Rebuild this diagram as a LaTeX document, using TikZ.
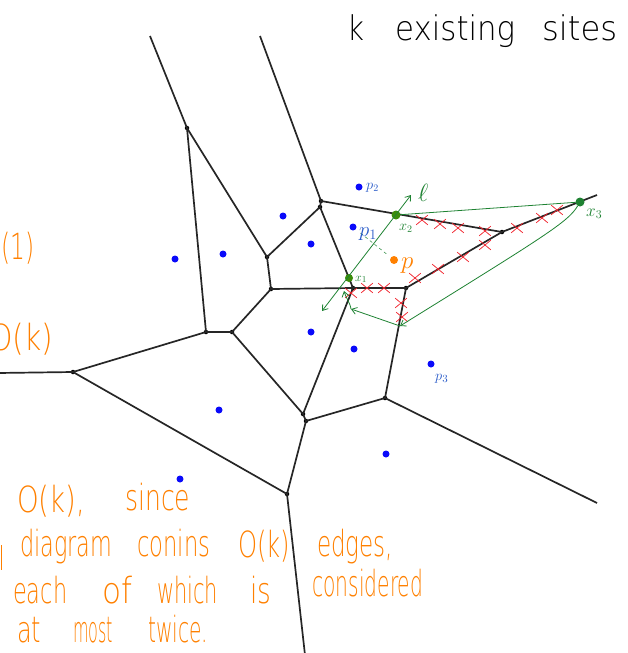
\documentclass[tikz,border=0pt]{standalone}
\usepackage{graphicx}
\usepackage{fontspec}
\newfontfamily\hwfont{DejaVu Sans ExtraLight}
\usetikzlibrary{arrows.meta,shapes.misc}
\definecolor{orng}{RGB}{255,128,0}
\definecolor{siteblue}{RGB}{10,10,250}
\definecolor{lblblue}{RGB}{40,90,200}
\definecolor{grn}{RGB}{30,130,50}
\definecolor{grnpt}{RGB}{60,140,10}
\definecolor{redx}{RGB}{240,30,40}
\newcommand{\hw}[2]{\resizebox{#1pt}{\height}{#2}}
\begin{document}
\begin{tikzpicture}[x=1pt,y=-1pt,
  voro/.style={line width=1.7pt, draw=black!85},
  vtx/.style={circle, fill=black, inner sep=0pt, minimum size=4.5pt},
  site/.style={circle, fill=siteblue, inner sep=0pt, minimum size=7pt},
  gpt/.style={circle, fill=grnpt, inner sep=0pt, minimum size=9pt},
  xm/.style={cross out, draw=redx, line width=0.7pt, inner sep=0pt, minimum width=11pt, minimum height=9pt},
  gline/.style={draw=grn, line width=0.8pt},
  garrow/.style={gline, -{Straight Barb[length=5pt,width=7pt]}},
  hand/.style={inner sep=0pt, anchor=base west, font=\hwfont\fontsize{34}{40}\selectfont},
  ohand/.style={hand, text=orng, font=\hwfont\fontsize{36}{44}\selectfont},
  lbl/.style={inner sep=0pt, anchor=base west}]
\useasboundingbox (0,0) rectangle (628,653);
\clip (0,0) rectangle (628,653);
% Voronoi vertices
\node[vtx] (A) at (187,128) {};
\node[vtx] (B1) at (321,201) {};
\node[vtx] (B2) at (320,207) {};
\node[vtx] (C) at (267,257) {};
\node[vtx] (D) at (271,289) {};
\node[vtx] (E) at (206,332) {};
\node[vtx] (F) at (232,332) {};
\node[vtx] (L) at (73,372) {};
\node[vtx] (G1) at (303,414) {};
\node[vtx] (G2) at (306,421) {};
\node[vtx] (H) at (385,398) {};
\node[vtx] (M) at (287,494) {};
\node[vtx] (I) at (353,288) {};
\node[vtx] (J) at (406,288) {};
\node[vtx] (K) at (502,232) {};
\coordinate (T1) at (150,36);
\coordinate (T2) at (260,36);
\coordinate (W) at (-2,373);
\coordinate (R) at (597,503);
\coordinate (R2) at (597,195);
\coordinate (Bot) at (305,655);
% Voronoi edges
\draw[voro] (T1) -- (A.center);
\draw[voro] (A.center) -- (E.center);
\draw[voro] (A.center) -- (C.center);
\draw[voro] (T2) -- (B1.center);
\draw[voro] (B1.center) -- (B2.center);
\draw[voro] (B1.center) -- (K.center);
\draw[voro] (B2.center) -- (C.center);
\draw[voro] (B2.center) -- (I.center);
\draw[voro] (C.center) -- (D.center);
\draw[voro] (D.center) -- (I.center);
\draw[voro] (D.center) -- (F.center);
\draw[voro] (F.center) -- (E.center);
\draw[voro] (E.center) -- (L.center);
\draw[voro] (L.center) -- (W);
\draw[voro] (L.center) -- (M.center);
\draw[voro] (F.center) -- (G1.center);
\draw[voro] (I.center) -- (G1.center);
\draw[voro] (G1.center) -- (G2.center);
\draw[voro] (G2.center) -- (H.center);
\draw[voro] (G2.center) -- (M.center);
\draw[voro] (H.center) -- (J.center);
\draw[voro] (H.center) -- (R);
\draw[voro] (J.center) -- (I.center);
\draw[voro] (J.center) -- (K.center);
\draw[voro] (K.center) -- (R2);
\draw[voro] (M.center) -- (Bot);
% sites
\node[site] (s1) at (175,259) {};
\node[site] (s2) at (223,254) {};
\node[site] (s3) at (283,216) {};
\node[site] (s4) at (311,244) {};
\node[site] (s5) at (353,227) {};
\node[site] (s6) at (359,187) {};
\node[site] (s7) at (311,332) {};
\node[site] (s8) at (354,349) {};
\node[site] (s9) at (431,364) {};
\node[site] (s10) at (219,410) {};
\node[site] (s11) at (386,454) {};
\node[site] (s12) at (180,479) {};
% red crosses
\node[xm] (r1) at (422,220) {};
\node[xm] (r2) at (440,224) {};
\node[xm] (r3) at (458,228) {};
\node[xm] (r4) at (485,231) {};
\node[xm] (r5) at (485,245) {};
\node[xm] (r6) at (463,257) {};
\node[xm] (r7) at (438,269) {};
\node[xm] (r8) at (415,278) {};
\node[xm] (r9) at (517,228) {};
\node[xm] (r10) at (542,218) {};
\node[xm] (r11) at (557,210) {};
\node[xm] (r12) at (351,293) {};
\node[xm] (r13) at (367,288) {};
\node[xm] (r14) at (384,288) {};
\node[xm] (r15) at (401,303) {};
\node[xm] (r16) at (402,317) {};
% query point p
\node[circle, fill=orng, inner sep=0pt, minimum size=8pt] (pp) at (394,260) {};
\draw[gline, line width=0.5pt, dash pattern=on 3pt off 3pt, shorten <=6pt, shorten >=3pt] (s5) -- (pp);
% green points and path
\node[gpt, minimum size=8pt] (x1) at (349,278) {};
\node[gpt] (x2) at (396,215) {};
\node[gpt, fill=grn] (x3) at (580,202) {};
\coordinate (l0) at (322,311);
\coordinate (l1) at (411,195);
\draw[gline, {Straight Barb[length=5pt,width=7pt]}-{Straight Barb[length=5pt,width=7pt]}] (l0) -- (l1);
\draw[gline] (x2) -- (x3);
\coordinate (q1) at (400,326);
\coordinate (q2) at (351,309);
\coordinate (q3) at (344,291);
\draw[garrow] (x3) .. controls (568,222) and (545,236) .. (q1);
\draw[garrow] (q1) -- (q2);
\draw[garrow] (q2) to[out=100,in=-75] (q3);
% labels
\node[lbl, text=grn, font=\fontsize{32}{32}\selectfont] (ell) at (418,201) {$\ell$};
\node[lbl, text=orng, font=\fontsize{28}{28}\selectfont] (plbl) at (401,268) {$p$};
\node[lbl, text=lblblue, font=\fontsize{20}{20}\selectfont] (p1l) at (359,236) {$p_1$};
\node[lbl, text=lblblue, font=\fontsize{14}{14}\selectfont] (p2l) at (366,189) {$p_2$};
\node[lbl, text=lblblue, font=\fontsize{15}{15}\selectfont] (p3l) at (435,380) {$p_3$};
\node[lbl, text=grn, font=\fontsize{13}{13}\selectfont] (x1l) at (355,281) {$x_1$};
\node[lbl, text=grn, font=\fontsize{14}{14}\selectfont] (x2l) at (399,230) {$x_2$};
\node[lbl, text=grn, font=\fontsize{17}{17}\selectfont] (x3l) at (586,216) {$x_3$};
% title
\node[hand] (t1) at (347,40) {\hw{17}{k}};
\node[hand] (t2) at (395,40) {\hw{120}{existing}};
\node[hand] (t3) at (542,40) {\hw{75}{sites}};
% orange side notes
\node[ohand] (o1) at (1,259) {\hw{33}{(1)}};
\node[ohand] (o2) at (-11,350) {\hw{64}{O(k)}};
% orange bottom text
\node[ohand] (b1) at (17,512) {\hw{68}{O(k),}};
\node[ohand] (b2) at (125,510) {\hw{65}{since}};
\draw[orng, line width=1pt] (1,545) -- (1,570);
\node[ohand] (b3) at (20,556) {\hw{92}{diagram}};
\node[ohand] (b4) at (137,556) {\hw{73}{conins}};
\node[ohand] (b5) at (238,557) {\hw{52}{O(k)}};
\node[ohand] (b6) at (317,556) {\hw{76}{edges,}};
\node[ohand] (b7) at (13,603) {\hw{54}{each}};
\node[ohand] (b8) at (102,603) {\hw{30}{of}};
\node[ohand] (b9) at (157,603) {\hw{61}{which}};
\node[ohand] (b10) at (250,603) {\hw{21}{is}};
\node[ohand] (b11) at (312,596) {\hw{111}{considered}};
\node[ohand] (b12) at (17,642) {\hw{24}{at}};
\node[ohand] (b13) at (73,642) {\hw{40}{most}};
\node[ohand] (b14) at (148,642) {\hw{60}{twice.}};
\end{tikzpicture}
\end{document}
